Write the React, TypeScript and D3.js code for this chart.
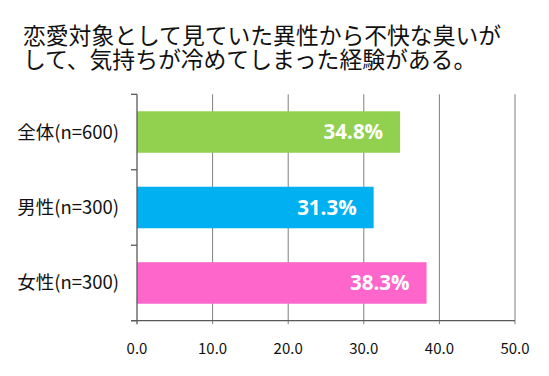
import React from "react";
import * as d3 from "d3";

const titleLines = [
  "恋愛対象として見ていた異性から不快な臭いが",
  "して、気持ちが冷めてしまった経験がある。",
];
const categories = ["全体(n=600)", "男性(n=300)", "女性(n=300)"];
const values = [34.8, 31.3, 38.3];
const colors = ["#92D050", "#00B0F0", "#FF66CC"];
const xTicks = [0, 10, 20, 30, 40, 50];

export default function App() {
  const W = 549;
  const H = 376;
  const left = 137;
  const right = 515;
  const top = 94.3;
  const bottom = 320.7;

  const x = d3.scaleLinear().domain([0, 50]).range([left, right]);
  const y = d3
    .scaleBand<string>()
    .domain(categories)
    .range([top, bottom])
    .paddingInner(0.45)
    .paddingOuter(0.225);

  const bandStep = (bottom - top) / categories.length;
  const jp = "'Noto Sans CJK JP', 'Noto Sans', sans-serif";

  return (
    <svg
      width={W}
      height={H}
      style={{ position: "absolute", left: 0, top: 0, background: "#fff" }}
    >
      {titleLines.map((t, i) => (
        <text
          key={i}
          x={23}
          y={44 + i * 23.5}
          fontFamily={jp}
          fontSize={22.8}
          fill="#111"
        >
          {t}
        </text>
      ))}
      {/* gridlines */}
      {xTicks.slice(1).map((t) => (
        <line
          key={t}
          x1={x(t)}
          x2={x(t)}
          y1={top}
          y2={bottom + 3.5}
          stroke="#7f7f7f"
          strokeWidth={1}
        />
      ))}
      {/* bars */}
      {categories.map((c, i) => (
        <rect
          key={c}
          x={x(0)}
          y={y(c)}
          width={x(values[i]) - x(0)}
          height={y.bandwidth()}
          fill={colors[i]}
        />
      ))}
      {/* value labels */}
      {categories.map((c, i) => (
        <text
          key={c}
          x={x(values[i]) - 17}
          y={(y(c) as number) + y.bandwidth() / 2}
          dy="0.36em"
          textAnchor="end"
          fontFamily="'Open Sans', sans-serif"
          fontWeight={700}
          fontSize={20.5}
          fill="#fff"
        >
          {values[i].toFixed(1)}%
        </text>
      ))}
      {/* y axis */}
      <line x1={left} x2={left} y1={top} y2={bottom + 3.5} stroke="#595959" strokeWidth={1.3} />
      {d3.range(categories.length + 1).map((i) => (
        <line
          key={i}
          x1={left - 6}
          x2={left}
          y1={top + i * bandStep}
          y2={top + i * bandStep}
          stroke="#595959"
          strokeWidth={1.3}
        />
      ))}
      {/* x axis */}
      <line x1={left - 6} x2={right} y1={bottom} y2={bottom} stroke="#595959" strokeWidth={1.3} />
      {xTicks.map((t) => (
        <text
          key={t}
          x={x(t)}
          y={349}
          dy="0.35em"
          textAnchor="middle"
          fontFamily={jp}
          fontSize={15}
          fill="#111"
        >
          {t.toFixed(1)}
        </text>
      ))}
      {/* category labels */}
      {categories.map((c) => (
        <text
          key={c}
          x={119}
          y={(y(c) as number) + y.bandwidth() / 2}
          dy="0.35em"
          textAnchor="end"
          fontFamily={jp}
          fontSize={18.5}
          fill="#111"
        >
          {c}
        </text>
      ))}
    </svg>
  );
}
